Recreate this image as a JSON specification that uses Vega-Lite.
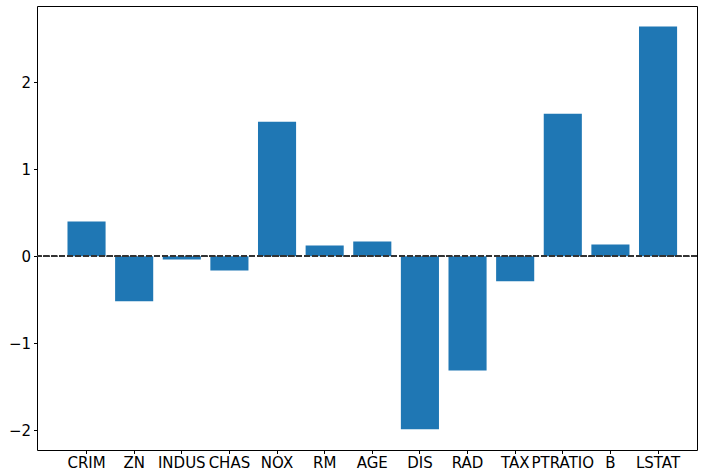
{
  "$schema": "https://vega.github.io/schema/vega-lite/v6.json",
  "autosize": "none",
  "width": 660,
  "height": 444,
  "padding": {"left": 37, "top": 6, "right": 5, "bottom": 20},
  "background": "white",
  "config": {
    "view": {"stroke": "#000000", "strokeWidth": 1},
    "font": "DejaVu Sans"
  },
  "data": {
    "values": [
      {"feature": "CRIM", "coef": 0.398},
      {"feature": "ZN", "coef": -0.516},
      {"feature": "INDUS", "coef": -0.038},
      {"feature": "CHAS", "coef": -0.164},
      {"feature": "NOX", "coef": 1.545},
      {"feature": "RM", "coef": 0.123},
      {"feature": "AGE", "coef": 0.168},
      {"feature": "DIS", "coef": -1.988},
      {"feature": "RAD", "coef": -1.311},
      {"feature": "TAX", "coef": -0.287},
      {"feature": "PTRATIO", "coef": 1.636},
      {"feature": "B", "coef": 0.134},
      {"feature": "LSTAT", "coef": 2.638}
    ]
  },
  "layer": [
    {
      "mark": {"type": "bar", "color": "#1f77b4"},
      "encoding": {
        "x": {
          "field": "feature",
          "type": "nominal",
          "sort": null,
          "scale": {"paddingInner": 0.2, "paddingOuter": 0.529, "align": 0.605, "round": false},
          "axis": {
            "title": null,
            "labelAngle": 0,
            "labelOverlap": false,
            "labelBound": false,
            "labelFlush": false,
            "labelFontSize": 15,
            "labelBaseline": "alphabetic",
            "labelColor": "#000000",
            "labelPadding": 13.5,
            "tickColor": "#000000",
            "tickSize": 3.5,
            "tickWidth": 1,
            "domain": false,
            "grid": false
          }
        },
        "y": {
          "field": "coef",
          "type": "quantitative",
          "scale": {"domain": [-2.225, 2.873], "nice": false, "zero": false},
          "axis": {
            "title": null,
            "values": [-2, -1, 0, 1, 2],
            "format": "d",
            "labelFontSize": 15,
            "labelColor": "#000000",
            "labelPadding": 3,
            "tickColor": "#000000",
            "tickSize": 3.5,
            "tickWidth": 1,
            "domain": false,
            "grid": false
          }
        }
      }
    },
    {
      "mark": {"type": "rule", "color": "#333333", "strokeWidth": 1.5, "strokeDash": [5.5, 2.4]},
      "encoding": {"y": {"datum": 0}}
    }
  ]
}
